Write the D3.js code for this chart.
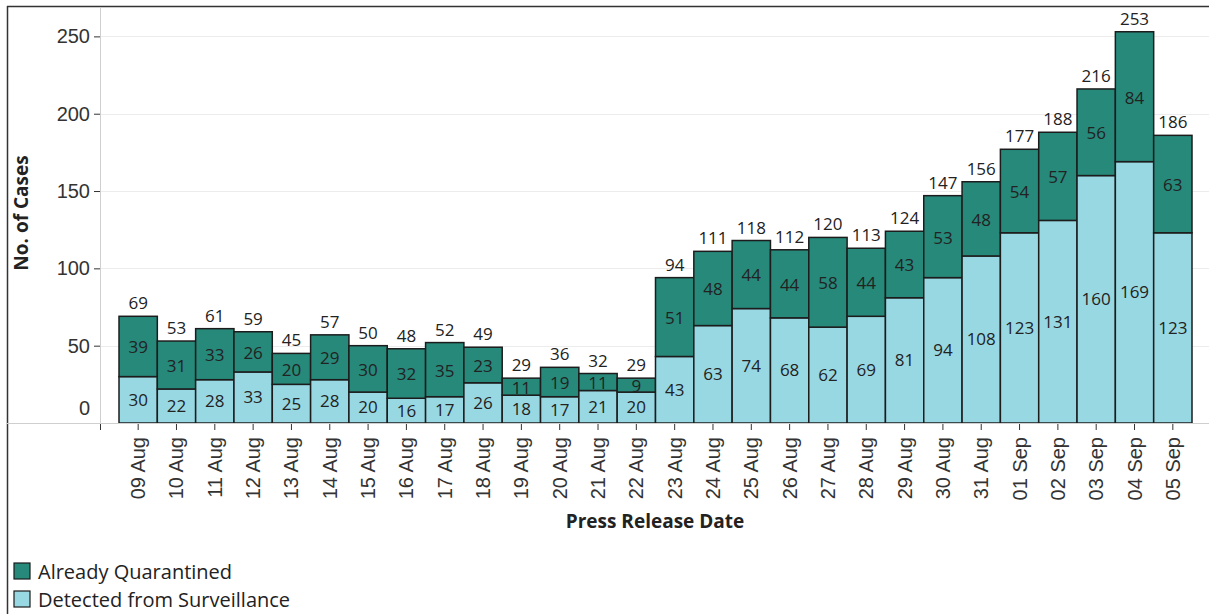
<!DOCTYPE html>
<html>
<head>
<meta charset="utf-8">
<script src="https://cdn.jsdelivr.net/npm/d3@7"></script>
<style>
  body { margin: 0; background: #fff; }
  svg { display: block; font-family: "Open Sans", "Noto Sans", sans-serif; }
</style>
</head>
<body>
<svg id="chart" width="1209" height="614"></svg>
<script>
const dates = ["09 Aug", "10 Aug", "11 Aug", "12 Aug", "13 Aug", "14 Aug", "15 Aug", "16 Aug",
  "17 Aug", "18 Aug", "19 Aug", "20 Aug", "21 Aug", "22 Aug", "23 Aug", "24 Aug", "25 Aug",
  "26 Aug", "27 Aug", "28 Aug", "29 Aug", "30 Aug", "31 Aug", "01 Sep", "02 Sep", "03 Sep",
  "04 Sep", "05 Sep"];
const surveillance = [30, 22, 28, 33, 25, 28, 20, 16, 17, 26, 18, 17, 21, 20, 43, 63, 74, 68,
  62, 69, 81, 94, 108, 123, 131, 160, 169, 123];
const quarantined = [39, 31, 33, 26, 20, 29, 30, 32, 35, 23, 11, 19, 11, 9, 51, 48, 44, 44,
  58, 44, 43, 53, 48, 54, 57, 56, 84, 63];
const yTicks = [50, 100, 150, 200, 250];
const seriesNames = ["Already Quarantined", "Detected from Surveillance"];

const darkColor = "#26897a";
const lightColor = "#98d8e2";

const svg = d3.select("#chart");

// frame
svg.append("line").attr("x1", 7.5).attr("x2", 7.5).attr("y1", 6).attr("y2", 614)
  .attr("stroke", "#333").attr("stroke-width", 1.5);
svg.append("line").attr("x1", 7).attr("x2", 1209).attr("y1", 6.5).attr("y2", 6.5)
  .attr("stroke", "#333").attr("stroke-width", 1.5);

const data = dates.map((d, i) => ({
  date: d,
  surv: surveillance[i],
  quar: quarantined[i],
  total: surveillance[i] + quarantined[i]
}));

const x = d3.scaleBand().domain(dates).range([119, 1192]).padding(0);
const y = d3.scaleLinear().domain([0, 269]).range([423, 7]);

// gridlines
svg.append("g").selectAll("line").data(yTicks).enter().append("line")
  .attr("x1", 100).attr("x2", 1209)
  .attr("y1", d => Math.round(y(d)) + 0.5).attr("y2", d => Math.round(y(d)) + 0.5)
  .attr("stroke", "#ececec").attr("stroke-width", 1);

// y axis
const yAxis = d3.axisLeft(y).tickValues(yTicks).tickSize(6).tickPadding(4);
const yAxisG = svg.append("g").attr("transform", "translate(100,0)").call(yAxis);
yAxisG.select(".domain").remove();
yAxisG.selectAll(".tick line").attr("stroke", "#333");
yAxisG.selectAll("text").style("font-size", "20px").attr("fill", "#333");
yAxisG.append("text").attr("x", -10).attr("y", 409).attr("dy", "0.32em")
  .attr("text-anchor", "end").style("font-size", "20px").attr("fill", "#333").text("0");

svg.append("line").attr("x1", 100.5).attr("x2", 100.5).attr("y1", 7).attr("y2", 423)
  .attr("stroke", "#cfcfcf");

// bars
const bars = svg.append("g").selectAll("g").data(data).enter().append("g");

bars.append("rect")
  .attr("x", d => x(d.date))
  .attr("width", x.bandwidth())
  .attr("y", d => y(d.surv))
  .attr("height", d => y(0) - y(d.surv))
  .attr("fill", lightColor).attr("stroke", "#1c1c1c").attr("stroke-width", 1.5);

bars.append("rect")
  .attr("x", d => x(d.date))
  .attr("width", x.bandwidth())
  .attr("y", d => y(d.total))
  .attr("height", d => y(d.surv) - y(d.total))
  .attr("fill", darkColor).attr("stroke", "#1c1c1c").attr("stroke-width", 1.5);

bars.append("text")
  .attr("x", d => x(d.date) + x.bandwidth() / 2)
  .attr("y", d => (y(0) + y(d.surv)) / 2)
  .attr("dy", "0.35em").attr("text-anchor", "middle")
  .style("font-size", "17px").attr("fill", "#222")
  .text(d => d.surv);

bars.append("text")
  .attr("x", d => x(d.date) + x.bandwidth() / 2)
  .attr("y", d => (y(d.surv) + y(d.total)) / 2 + 1)
  .attr("dy", "0.35em").attr("text-anchor", "middle")
  .style("font-size", "17px").attr("fill", "#222")
  .text(d => d.quar);

bars.append("text")
  .attr("x", d => x(d.date) + x.bandwidth() / 2)
  .attr("y", d => y(d.total) - 7)
  .attr("text-anchor", "middle")
  .style("font-size", "17px").attr("fill", "#222")
  .text(d => d.total);

// x axis
svg.append("line").attr("x1", 7).attr("x2", 1209).attr("y1", 423.5).attr("y2", 423.5)
  .attr("stroke", "#cfcfcf");

const xAxis = d3.axisBottom(x).tickSize(6).tickPadding(10);
const xAxisG = svg.append("g").attr("transform", "translate(0,424)").call(xAxis);
xAxisG.select(".domain").remove();
xAxisG.selectAll(".tick line").attr("stroke", "#333");
xAxisG.selectAll("text")
  .style("font-size", "20px").attr("fill", "#333")
  .style("text-anchor", "end")
  .attr("transform", "rotate(-90)")
  .attr("x", -13).attr("y", 0).attr("dy", "0.35em");
svg.append("line").attr("x1", 100.5).attr("x2", 100.5).attr("y1", 424).attr("y2", 430)
  .attr("stroke", "#333");

// axis titles
svg.append("text").attr("x", 655).attr("y", 528).attr("text-anchor", "middle")
  .style("font-size", "19px").style("font-weight", "bold").attr("fill", "#222")
  .text("Press Release Date");
svg.append("text").attr("transform", "translate(28,213) rotate(-90)")
  .attr("text-anchor", "middle")
  .style("font-size", "19px").style("font-weight", "bold").attr("fill", "#222")
  .text("No. of Cases");

// legend
const legend = svg.append("g").selectAll("g").data(seriesNames).enter().append("g")
  .attr("transform", (d, i) => `translate(14,${563 + i * 28})`);
legend.append("rect").attr("width", 16).attr("height", 16)
  .attr("fill", (d, i) => i === 0 ? darkColor : lightColor)
  .attr("stroke", "#1c1c1c").attr("stroke-width", 1.2);
legend.append("text").attr("x", 24).attr("y", 9).attr("dy", "0.35em")
  .style("font-size", "20px").attr("fill", "#222").text(d => d);
</script>
</body>
</html>
